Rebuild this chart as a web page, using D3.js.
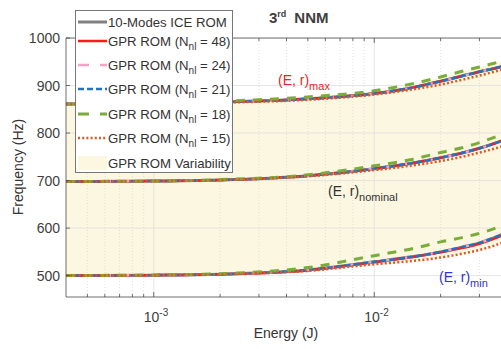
<!DOCTYPE html>
<html>
<head>
<meta charset="UTF-8">
<title>3rd NNM</title>
<style>
body { margin: 0; background: #fff; }
text { font-family: "Liberation Sans", Arial, sans-serif; }
</style>
<script src="https://cdn.jsdelivr.net/npm/d3@7"></script>
</head>
<body>
<div id="chart"></div>
<script>
// energy sample points (J)
var energy = [0.0004, 0.001, 0.002, 0.005, 0.01, 0.015, 0.02, 0.025, 0.03, 0.035, 0.04];

// (E, r)max
var iceMax   = [861, 863, 865, 872, 883, 896, 909, 920, 929, 936, 943];
var gpr48Max = [861, 863, 865, 872, 883, 896, 909, 920, 929, 936, 943];
var gpr24Max = [861, 863, 865, 872, 883, 896, 909, 920, 929, 936, 943];
var gpr21Max = [861, 863, 865, 872, 883, 896, 909, 920, 929, 936, 943];
var gpr18Max = [861, 864, 867, 876, 889, 904, 918, 930, 939, 947, 955];
var gpr15Max = [861, 862, 864, 870, 881, 892, 902, 912, 921, 929, 936];

// (E, r)nominal
var iceNom   = [698, 699, 701, 710, 725, 737, 748, 758, 768, 778, 788];
var gpr48Nom = [698, 699, 701, 710, 725, 737, 748, 758, 768, 778, 788];
var gpr24Nom = [698, 699, 701, 710, 725, 737, 748, 758, 768, 778, 788];
var gpr21Nom = [698, 699, 701, 710, 725, 737, 748, 758, 768, 778, 788];
var gpr18Nom = [698, 699, 702, 712, 731, 745, 759, 769, 780, 791, 802];
var gpr15Nom = [698, 699, 701, 709, 722, 732, 741, 750, 759, 767, 775];

// (E, r)min
var iceMin   = [500, 501, 503, 512, 529, 540, 550, 560, 569, 580, 591];
var gpr48Min = [500, 501, 503, 511, 528, 539, 549, 558, 567, 578, 589];
var gpr24Min = [500, 501, 503, 512, 529, 540, 550, 560, 569, 580, 591];
var gpr21Min = [500, 501, 503, 512, 529, 540, 550, 560, 569, 580, 591];
var gpr18Min = [500, 501.5, 504, 517, 542, 557, 571, 580, 589, 599, 610];
var gpr15Min = [500, 501, 503, 510, 524, 531, 538, 546, 554, 563, 573];

var yTicks = [500, 600, 700, 800, 900, 1000];
var xMajor = [0.001, 0.01];
var xMinor = [0.0005, 0.0006, 0.0007, 0.0008, 0.0009, 0.002, 0.003, 0.004, 0.005, 0.006, 0.007, 0.008, 0.009, 0.02, 0.03];

var legendLabels = ["10-Modes ICE ROM", "48", "24", "21", "18", "15", "GPR ROM Variability"];

var W = 501, H = 349;
var pL = 66, pR = 507, pT = 38, pB = 297;

var svg = d3.select("#chart").append("svg")
    .attr("width", W).attr("height", H);

var x = d3.scaleLog().domain([0.0004, 0.04]).range([pL, pR]);
var y = d3.scaleLinear().domain([455, 1000]).range([pB, pT]);

svg.append("defs").append("clipPath").attr("id", "clip")
  .append("rect").attr("x", pL).attr("y", pT).attr("width", pR - pL).attr("height", pB - pT);

var plot = svg.append("g").attr("clip-path", "url(#clip)");

// variability band
var band = energy.map(function(e, i) { return {e: e, lo: gpr15Min[i], hi: gpr18Max[i]}; });
plot.append("path")
    .datum(band)
    .attr("fill", "#fcf7e1")
    .attr("d", d3.area()
        .x(function(d) { return x(d.e); })
        .y0(function(d) { return y(d.lo); })
        .y1(function(d) { return y(d.hi); })
        .curve(d3.curveMonotoneX));

// grid
plot.selectAll(".hgrid").data(yTicks).enter().append("line")
    .attr("x1", pL).attr("x2", pR)
    .attr("y1", function(d) { return y(d); }).attr("y2", function(d) { return y(d); })
    .attr("stroke", "#dedede").attr("stroke-width", 0.8);
plot.selectAll(".vmin").data(xMinor).enter().append("line")
    .attr("x1", function(d) { return x(d); }).attr("x2", function(d) { return x(d); })
    .attr("y1", pT).attr("y2", pB)
    .attr("stroke", "#d4d4d4").attr("stroke-width", 0.7).attr("stroke-dasharray", "1,2");
plot.selectAll(".vmaj").data(xMajor).enter().append("line")
    .attr("x1", function(d) { return x(d); }).attr("x2", function(d) { return x(d); })
    .attr("y1", pT).attr("y2", pB)
    .attr("stroke", "#dedede").attr("stroke-width", 0.8);

var line = d3.line()
    .x(function(d) { return x(d[0]); })
    .y(function(d) { return y(d[1]); })
    .curve(d3.curveMonotoneX);

var styles = [
  {color: "#808080", width: 3, dash: null},
  {color: "#ff1a1a", width: 2.5, dash: null},
  {color: "#f7a3c8", width: 2.5, dash: "8,12"},
  {color: "#1f74c0", width: 2.5, dash: "6,3"},
  {color: "#7aac3a", width: 3, dash: "9,8"},
  {color: "#dc5a22", width: 2.5, dash: "2,2.2"}
];
var groups = [
  [iceMax, gpr48Max, gpr24Max, gpr21Max, gpr18Max, gpr15Max],
  [iceNom, gpr48Nom, gpr24Nom, gpr21Nom, gpr18Nom, gpr15Nom],
  [iceMin, gpr48Min, gpr24Min, gpr21Min, gpr18Min, gpr15Min]
];
styles.forEach(function(s, k) {
  groups.forEach(function(g) {
    plot.append("path")
        .datum(energy.map(function(e, i) { return [e, g[k][i]]; }))
        .attr("fill", "none")
        .attr("stroke", s.color)
        .attr("stroke-width", s.width)
        .attr("stroke-dasharray", s.dash)
        .attr("d", line);
  });
});

// axes box
var axisColor = "#4a4a4a";
svg.append("line").attr("x1", pL).attr("x2", pR).attr("y1", pT).attr("y2", pT)
    .attr("stroke", axisColor).attr("stroke-width", 0.8);
svg.append("line").attr("x1", pL).attr("x2", pR).attr("y1", pB).attr("y2", pB)
    .attr("stroke", axisColor).attr("stroke-width", 0.8);
svg.append("line").attr("x1", pL).attr("x2", pL).attr("y1", pT).attr("y2", pB)
    .attr("stroke", axisColor).attr("stroke-width", 0.8);

// ticks (inward)
svg.selectAll(".yt").data(yTicks).enter().append("line")
    .attr("x1", pL).attr("x2", pL + 4)
    .attr("y1", function(d) { return y(d); }).attr("y2", function(d) { return y(d); })
    .attr("stroke", axisColor).attr("stroke-width", 0.8);
svg.selectAll(".ytl").data(yTicks).enter().append("text")
    .attr("x", pL - 6).attr("y", function(d) { return y(d) + 5; })
    .attr("text-anchor", "end").attr("font-size", 14).attr("fill", "#404040")
    .text(function(d) { return d; });

var allX = xMajor.map(function(d) { return {v: d, len: 5}; })
    .concat(xMinor.map(function(d) { return {v: d, len: 3}; }));
[pB, pT].forEach(function(yy, j) {
  svg.selectAll(".xt" + j).data(allX).enter().append("line")
      .attr("x1", function(d) { return x(d.v); }).attr("x2", function(d) { return x(d.v); })
      .attr("y1", yy).attr("y2", function(d) { return j === 0 ? yy - d.len : yy + d.len; })
      .attr("stroke", axisColor).attr("stroke-width", 0.8);
});
var xl = svg.selectAll(".xtl").data(xMajor).enter().append("text")
    .attr("x", function(d) { return x(d) - 10; }).attr("y", 322)
    .attr("font-size", 14).attr("fill", "#404040");
xl.append("tspan").text("10");
xl.append("tspan").attr("dy", -6).attr("font-size", 10)
    .text(function(d) { return Math.round(Math.log10(d)); });

// axis titles
svg.append("text").attr("x", 286).attr("y", 338).attr("text-anchor", "middle")
    .attr("font-size", 14).attr("fill", "#333").text("Energy (J)");
svg.append("text").attr("transform", "translate(23,167) rotate(-90)")
    .attr("text-anchor", "middle").attr("font-size", 14).attr("fill", "#333")
    .text("Frequency (Hz)");

// title
var title = svg.append("text").attr("x", 269).attr("y", 23)
    .attr("font-size", 15).attr("font-weight", "bold").attr("fill", "#404040");
title.append("tspan").text("3");
title.append("tspan").attr("dy", -6).attr("font-size", 9).text("rd");
title.append("tspan").attr("dy", 6).attr("dx", 8).text("NNM");

// curve annotations
function subLabel(xp, yp, sub, color) {
  var t = svg.append("text").attr("x", xp).attr("y", yp)
      .attr("font-size", 14).attr("fill", color);
  t.append("tspan").text("(E, r)");
  t.append("tspan").attr("dy", 5).attr("font-size", 11).text(sub);
}
subLabel(278, 85, "max", "#e8261f");
subLabel(328, 196, "nominal", "#333");
subLabel(439, 282, "min", "#3333cc");

// legend
var lg = svg.append("g");
lg.append("rect").attr("x", 75.5).attr("y", 10.5).attr("width", 157).attr("height", 162)
    .attr("fill", "#fff").attr("stroke", "#777").attr("stroke-width", 1);
var rowsY = [22, 41, 65, 89, 114, 138, 163];
var legendStyles = styles.slice();
legendStyles[2] = {color: "#f7a3c8", width: 2.5, dash: "11,11"};
legendStyles[4] = {color: "#7aac3a", width: 3, dash: "11,11"};
rowsY.forEach(function(ry, i) {
  if (i < 6) {
    var s = legendStyles[i];
    lg.append("line").attr("x1", 78).attr("x2", 107).attr("y1", ry).attr("y2", ry)
        .attr("stroke", s.color).attr("stroke-width", s.width)
        .attr("stroke-dasharray", s.dash);
  } else {
    lg.append("rect").attr("x", 78).attr("y", ry - 7).attr("width", 29).attr("height", 14)
        .attr("fill", "#fcf7e1");
  }
  var t = lg.append("text").attr("x", 108).attr("y", ry + 5)
      .attr("font-size", 13.2).attr("fill", "#333");
  if (i === 0 || i === 6) {
    t.text(legendLabels[i]);
  } else {
    t.append("tspan").text("GPR ROM (N");
    t.append("tspan").attr("dy", 4).attr("font-size", 10).text("nl");
    t.append("tspan").attr("dy", -4).text(" = " + legendLabels[i] + ")");
  }
});
</script>
</body>
</html>
